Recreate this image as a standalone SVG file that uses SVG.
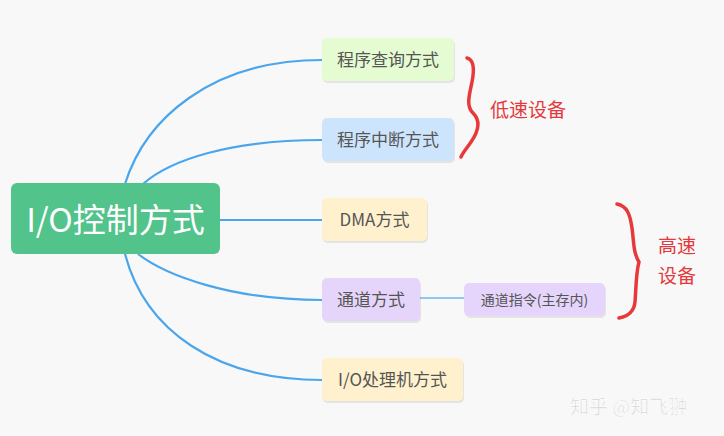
<svg xmlns="http://www.w3.org/2000/svg" width="724" height="436" viewBox="0 0 724 436">
<style>
text{font-family:"Noto Sans CJK SC","Noto Sans",sans-serif;}
.n{fill:#555;font-size:17px;text-anchor:middle;}
.sh{fill:#000;opacity:0.08;}
.c{fill:none;stroke:#4aa6ec;stroke-width:2.2;}
.br{fill:none;stroke:#e8393a;stroke-width:3.5;stroke-linecap:round;stroke-linejoin:round;}
.rt{fill:#e4393c;font-size:19px;}
</style>
<rect width="724" height="436" fill="#f8f8f8"/>
<g id="connectors">
<path class="c" d="M125,184 C145,120 210,60 322,60"/>
<path class="c" d="M143,184 C170,160 230,140 322,140"/>
<path class="c" d="M220,220 L322,220"/>
<path class="c" d="M138,254 C165,275 230,300 322,300"/>
<path class="c" d="M125,254 C145,330 215,380 322,380"/>
<path class="c" d="M420,298 L464,298" style="stroke-width:1.5;stroke:#6fb6ef"/>
</g>
<g id="root">
<rect x="11" y="183" width="209" height="71" rx="6" fill="#52c38b"/>
<text x="115.5" y="232" fill="#fff" font-size="33" text-anchor="middle">I/O控制方式</text>
</g>
<g id="n1">
<rect class="sh" x="323" y="40" width="132" height="43" rx="5"/>
<rect x="322" y="38" width="132" height="43" rx="5" fill="#e5fbd1"/>
<text class="n" x="388" y="66">程序查询方式</text>
</g>
<g id="n2">
<rect class="sh" x="323" y="120" width="132" height="43" rx="5"/>
<rect x="322" y="118" width="132" height="43" rx="5" fill="#cde5fc"/>
<text class="n" x="388" y="146">程序中断方式</text>
</g>
<g id="n3">
<rect class="sh" x="323" y="200" width="105" height="43" rx="5"/>
<rect x="322" y="198" width="105" height="43" rx="5" fill="#fff1cd"/>
<text class="n" x="374.5" y="226">DMA方式</text>
</g>
<g id="n4">
<rect class="sh" x="323" y="280" width="98" height="43" rx="5"/>
<rect x="322" y="278" width="98" height="43" rx="5" fill="#e5d5fa"/>
<text class="n" x="371" y="306">通道方式</text>
</g>
<g id="n5">
<rect class="sh" x="465" y="285" width="141" height="33" rx="5"/>
<rect x="464" y="283" width="141" height="33" rx="5" fill="#e5d4fb"/>
<text x="534.5" y="304.5" fill="#555" font-size="14" text-anchor="middle">通道指令(主存内)</text>
</g>
<g id="n6">
<rect class="sh" x="323" y="360" width="141" height="43" rx="5"/>
<rect x="322" y="358" width="141" height="43" rx="5" fill="#fff1cd"/>
<text class="n" x="392.5" y="386">I/O处理机方式</text>
</g>
<g id="brace1">
<path class="br" d="M467,58 C475,60 474,72 472,82 C469,96 466,106 473,113 C481,121 478,132 471,142 C466,149 462,154 461,157"/>
<text class="rt" x="490" y="117">低速设备</text>
</g>
<g id="brace2">
<path class="br" d="M617,204 C627,206 630,214 632,228 C634,242 633,252 639,262 C636,272 636,290 635,302 C634,312 628,316 619,318"/>
<text class="rt" x="658" y="253">高速</text>
<text class="rt" x="658" y="283">设备</text>
</g>
<text x="570" y="414" fill="#d0d0d0" stroke="#fff" stroke-width="0.6" font-size="19">知乎 @知飞翀</text>
</svg>
